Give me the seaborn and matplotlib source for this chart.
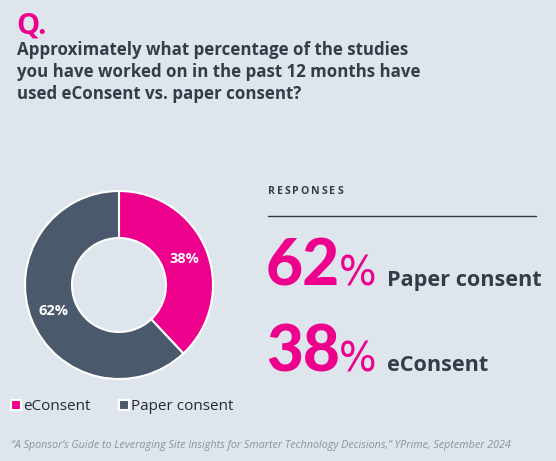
import matplotlib
matplotlib.use("Agg")
import matplotlib.pyplot as plt
import seaborn as sns
from matplotlib.lines import Line2D

labels = ["eConsent", "Paper consent"]
values = [38, 62]
colors = ["#ec008c", "#4a5a6c"]
title_lines = "Approximately what percentage of the studies\nyou have worked on in the past 12 months have\nused eConsent vs. paper consent?"
source = "\u201cA Sponsor\u2019s Guide to Leveraging Site Insights for Smarter Technology Decisions,\u201d YPrime, September 2024"

BG = "#dfe5ec"
DARK = "#333d48"
PINK = "#ec008c"

sns.set_style("white")
plt.rcParams['font.family'] = ['Open Sans', 'DejaVu Sans']

W, H = 556, 461
fig = plt.figure(figsize=(W / 100, H / 100), dpi=100, facecolor=BG)

def fx(px):
    return px / W

def fy(py):
    return 1 - py / H

# Header
fig.text(fx(16), fy(33), "Q.", color=PINK, fontsize=21, fontweight="bold", va="baseline", ha="left")
fig.text(fx(17), fy(41), title_lines, color=DARK, fontsize=12.15, fontweight="bold",
         va="top", ha="left", linespacing=1.3)

# Donut
cx, cy, R = 119, 285, 94
pad = 96
ax = fig.add_axes([fx(cx - pad), fy(cy + pad), 2 * pad / W, 2 * pad / H])
ax.set_facecolor(BG)
wedges, texts, autotexts = ax.pie(values, colors=colors, startangle=90, counterclock=False,
                                  radius=1, autopct="%d%%", pctdistance=0.75,
                                  wedgeprops=dict(width=0.5, edgecolor="white", linewidth=1.5),
                                  textprops=dict(color="white", fontsize=10.5, fontweight="bold"))
ax.set_xlim(-pad / R, pad / R)
ax.set_ylim(-pad / R, pad / R)
ax.set_aspect("equal")
ax.axis("off")

# Legend
handles = [Line2D([0], [0], marker="s", linestyle="none", markersize=6.5,
                  markerfacecolor=c, markeredgecolor="white", markeredgewidth=1.5) for c in colors]
leg = fig.legend(handles, labels, loc="center left", bbox_to_anchor=(fx(-2), fy(407)), ncol=2,
                 frameon=False, fontsize=11, handlelength=0.6, handletextpad=0.15,
                 columnspacing=1.9, labelcolor="#222a33")

fig.canvas.draw()
renderer = fig.canvas.get_renderer()

# Responses panel: letter-spaced heading
x = 268
for ch in "RESPONSES":
    t = fig.text(fx(x), fy(192), ch, color=DARK, fontsize=7.6, fontweight="bold",
                 va="center", ha="left")
    bb = t.get_window_extent(renderer)
    x = bb.x1 + 1.9
fig.lines.append(Line2D([fx(268), fx(536)], [fy(216), fy(216)], transform=fig.transFigure,
                        color=DARK, linewidth=1.0))

def big_row(value, label, baseline):
    t1 = fig.text(fx(266), fy(baseline), f"{value}", color=PINK, fontsize=46, fontweight="black",
                  va="baseline", ha="left", family=["Lato", "DejaVu Sans"])
    bb = t1.get_window_extent(renderer)
    x1 = bb.x1 / W - fx(1)
    fig.text(x1, fy(baseline), "%", color=PINK, fontsize=28.5, fontweight="normal",
             va="baseline", ha="left", family=["DejaVu Sans"])
    fig.text(fx(387), fy(baseline), label, color=DARK, fontsize=15.6, fontweight="bold",
             va="baseline", ha="left")

for v, l, b in zip(values[::-1], labels[::-1], [286, 371]):
    big_row(v, l, b)

# Source
fig.text(fx(11), fy(445), source, color="#8a939c", fontsize=7.75, style="italic", va="center", ha="left")

fig.savefig("out.png", dpi=100, facecolor=BG)
